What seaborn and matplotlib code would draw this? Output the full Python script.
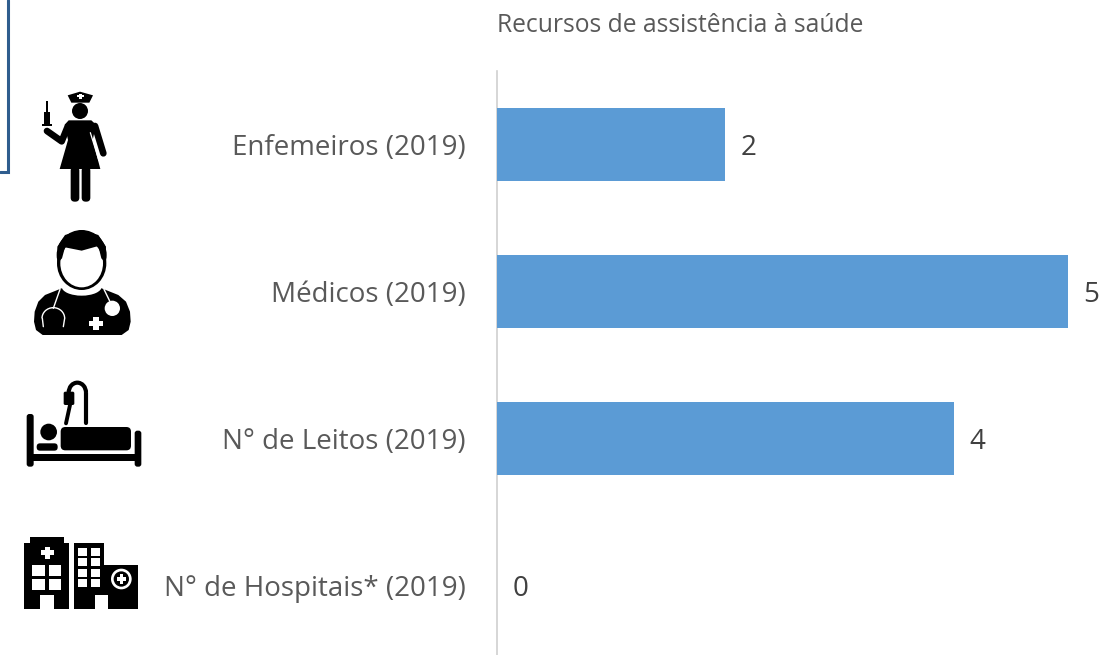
import matplotlib
matplotlib.use('Agg')
import matplotlib.pyplot as plt
from matplotlib.patches import Circle, Ellipse, FancyBboxPatch, Polygon, Rectangle, Arc
import seaborn as sns

sns.set_theme(style='white')
plt.rcParams['font.family'] = 'Open Sans'

# Chart data
categories = ['Enfemeiros (2019)', 'Médicos (2019)', 'N° de Leitos (2019)', 'N° de Hospitais* (2019)']
values = [2, 5, 4, 0]
title = 'Recursos de assistência à saúde'

BAR = '#5B9BD5'
GREY = '#595959'
DARK = '#404040'

fig = plt.figure(figsize=(11.16, 6.55), dpi=100)
ax = fig.add_axes([497 / 1116, -4 / 655, 571 / 1116, 588 / 655])

sns.barplot(x=values, y=categories, orient='h', color=BAR, saturation=1, width=0.5, linewidth=0, ax=ax)
ax.set_xlim(0, 5)
ax.set_ylim(3.5, -0.5)
ax.set_xlabel('')
ax.set_ylabel('')
ax.set_xticks([])
ax.tick_params(axis='y', length=0, pad=22.7, labelsize=20, labelcolor=GREY)
sns.despine(ax=ax, top=True, right=True, bottom=True)
ax.spines['left'].set_color('#D0D0D0')
ax.spines['left'].set_linewidth(1.2)
ax.spines['left'].set_zorder(0.5)
bar_texts = ax.bar_label(ax.containers[0], labels=[str(v) for v in values], padding=11, fontsize=20, color=DARK,
                         clip_on=False)
for t in bar_texts:
    t.set_verticalalignment('center_baseline')
ax.set_title(title, loc='left', pad=28.3, fontsize=17.7, color=GREY)

# Overlay in pixel space for the icons and the cut-off box
ov = fig.add_axes([0, 0, 1, 1], zorder=5)
ov.set_xlim(0, 1116)
ov.set_ylim(655, 0)
ov.axis('off')
ov.patch.set_visible(False)

ov.plot([0, 8, 8], [172, 172, 0], color='#2F5D8E', lw=2.2, solid_joinstyle='miter')


def zpts(pts, y0=0):
    return [(x / 3, y0 + y / 3) for x, y in pts]


def poly(pts, y0=0, color='black'):
    ov.add_patch(Polygon(zpts(pts, y0), closed=True, fc=color, ec='none'))


def rect(x0, y0, x1, y1, off=0, color='black'):
    ov.add_patch(Rectangle((x0 / 3, off + y0 / 3), (x1 - x0) / 3, (y1 - y0) / 3, fc=color, ec='none'))


def rrect(x0, y0, x1, y1, off=0, r=6, color='black'):
    ov.add_patch(FancyBboxPatch((x0 / 3 + r / 3, off + y0 / 3 + r / 3), (x1 - x0 - 2 * r) / 3, (y1 - y0 - 2 * r) / 3,
                                boxstyle=f'round,pad={r / 3},rounding_size={r / 3}', fc=color, ec='none'))


def line(pts, off=0, lw=4.0, color='black'):
    xy = zpts(pts, off)
    ov.plot([p[0] for p in xy], [p[1] for p in xy], color=color, lw=lw, solid_capstyle='round', solid_joinstyle='round')


def circ(x, y, r, off=0, color='black'):
    ov.add_patch(Circle((x / 3, off + y / 3), r / 3, fc=color, ec='none'))


def oval(x, y, rx, ry, color='black'):
    ov.add_patch(Ellipse((x / 3, y / 3), 2 * rx / 3, 2 * ry / 3, fc=color, ec='none'))


# Nurse
poly([(203, 286), (240, 275), (279, 286), (268, 308), (214, 308)])
rect(236, 281, 246, 297, color='white')
rect(231, 286, 251, 292, color='white')
circ(240, 333, 24)
poly([(194, 374), (206, 361), (274, 361), (288, 374), (278, 420), (301, 507), (179, 507), (204, 420)])
rrect(212, 500, 238, 605, r=12)
rrect(245, 500, 271, 605, r=12)
line([(285, 378), (310, 460)], lw=4.8)
line([(203, 380), (185, 424), (141, 393)], lw=4.8)
line([(271, 398), (297, 482)], lw=0.9, color='white')
rect(131, 335, 150, 372)
rect(138, 303, 144, 335)
rect(127, 372, 156, 378)

# Doctor
poly([(108, 990), (102, 965), (104, 935), (115, 905), (135, 885), (190, 863), (300, 863), (355, 885),
      (378, 905), (390, 935), (392, 965), (386, 990), (365, 1005), (128, 1005)])
oval(245, 860, 60, 27, color='white')
oval(245, 790, 74, 80)
oval(245, 765, 75, 75)
oval(245, 790, 64, 72, color='white')
poly([(176, 785), (172, 740), (195, 705), (245, 690), (295, 705), (318, 740), (314, 785),
      (304, 775), (295, 738), (245, 752), (195, 742), (186, 775)])
line([(180, 868), (160, 925)], lw=1.0, color='white')
ov.add_patch(Arc((160 / 3, 955 / 3), 68 / 3, 64 / 3, theta1=180, theta2=360, ec='white', lw=1.0))
line([(127, 955), (130, 980)], lw=1.0, color='white')
line([(194, 955), (190, 980)], lw=1.0, color='white')
line([(312, 868), (330, 905)], lw=1.0, color='white')
circ(337, 925, 23, color='white')
rect(278, 952, 298, 990, color='white')
rect(266, 963, 310, 979, color='white')

# Bed
off = 360
rrect(80, 162, 101, 320, off, r=8)
rrect(404, 212, 424, 320, off, r=8)
rect(90, 282, 414, 302, off)
circ(146, 216, 25, off)
rrect(110, 250, 173, 272, off, r=10)
rrect(182, 201, 393, 271, off, r=14)
ov.add_patch(Arc((232 / 3, off + 98 / 3), 52 / 3, 60 / 3, theta1=180, theta2=360, ec='black', lw=3.0))
line([(258, 98), (258, 190)], off, lw=3.0)
rrect(191, 95, 223, 135, off, r=5)
line([(210, 135), (198, 190)], off, lw=2.8)

# Hospitals
rect(73, 549, 207, 746, off)
rect(90, 531, 192, 552, off)
rect(134, 560, 150, 596, off, color='white')
rect(122, 570, 162, 585, off, color='white')
for x0 in (97, 147):
    for y0 in (615, 658):
        rect(x0, y0, x0 + 37, y0 + 33, off, color='white')
rect(120, 705, 162, 746, off, color='white')
rect(221, 549, 312, 746, off)
rect(312, 615, 413, 746, off)
for x0 in (235, 272):
    for y0 in (563, 595, 626, 657):
        rect(x0, y0, x0 + 27, y0 + 24, off, color='white')
rect(285, 705, 325, 746, off, color='white')
circ(364, 657, 31, off, color='white')
circ(364, 657, 23, off)
rect(359, 643, 369, 671, off, color='white')
rect(350, 652, 378, 662, off, color='white')

fig.savefig('out.png', dpi=100)
